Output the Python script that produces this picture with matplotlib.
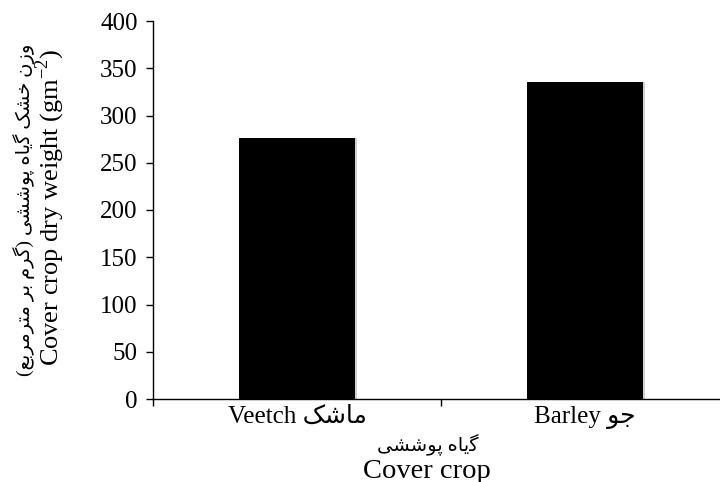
import numpy as np
import matplotlib
matplotlib.use('Agg')
import matplotlib.pyplot as plt
from matplotlib.ticker import FixedLocator

# data
categories = ['Veetch \uFB8F\uFEB7\uFE8E\uFEE3', 'Barley \uFEEE\uFE9F']   # ماشک / جو (pre-shaped, visual order)
dry_weight = [276, 335]
y_ticks = [0, 50, 100, 150, 200, 250, 300, 350, 400]

x_title_fa = '\uFBFD\uFEB8\uFEB7\uFEEE\uFB58 \uFEE9\uFE8E\uFBFE\uFB94'   # گیاه پوششی
x_title_en = 'Cover crop'
y_title_fa = ('(\uFECA\uFE91\uFEAE\uFEE3\uFEAE\uFE98\uFEE3 \uFEAE\uFE91 \uFEE1\uFEAE\uFB94) '
              '\uFBFD\uFEB8\uFEB7\uFEEE\uFB58 \uFEE9\uFE8E\uFBFE\uFB94 \uFB8F\uFEB8\uFEA7 \uFEE5\uFEAF\uFEED')
y_title_en = 'Cover crop dry weight (gm$^{\\mathregular{-2}}$)'

fams = ['Liberation Serif', 'DejaVu Sans']
plt.rcParams['font.family'] = fams
plt.rcParams['mathtext.fontset'] = 'custom'
plt.rcParams['mathtext.rm'] = 'Liberation Serif'

fig = plt.figure(figsize=(7.2, 4.82), dpi=100)
ax = fig.add_axes([153 / 720, 1 - 399 / 482, 576 / 720, 378 / 482])

x = np.arange(len(categories))
# soft shadow like the original export
ax.bar(x + 0.008, dry_weight, width=0.40, color='#d0d0d0', zorder=1)
ax.bar(x, dry_weight, width=0.40, color='black', zorder=2)

ax.set_xlim(-0.5, 1.5)
ax.set_ylim(0, 400)
ax.set_yticks(y_ticks)
ax.tick_params(axis='y', direction='out', length=5, width=1, labelsize=18, pad=6)

ax.set_xticks(x)
ax.set_xticklabels(categories, fontsize=18)
ax.xaxis.set_minor_locator(FixedLocator([-0.5, 0.5, 1.5]))
ax.tick_params(axis='x', which='major', length=0, pad=5)
ax.tick_params(axis='x', which='minor', direction='out', length=5, width=1)

for s in ['top', 'right']:
    ax.spines[s].set_visible(False)
ax.spines['left'].set_linewidth(1)
ax.spines['bottom'].set_linewidth(1)

fig.text(428 / 720, 1 - 445 / 482, x_title_fa, ha='center', va='center', fontsize=14)
fig.text(427 / 720, 1 - 471 / 482, x_title_en, ha='center', va='center', fontsize=20.5)
fig.text(24 / 720, 1 - 210 / 482, y_title_fa, ha='center', va='center', rotation=90, fontsize=14)
fig.text(50 / 720, 1 - 207 / 482, y_title_en, ha='center', va='center', rotation=90, fontsize=19)

fig.savefig('out.png', dpi=100)
